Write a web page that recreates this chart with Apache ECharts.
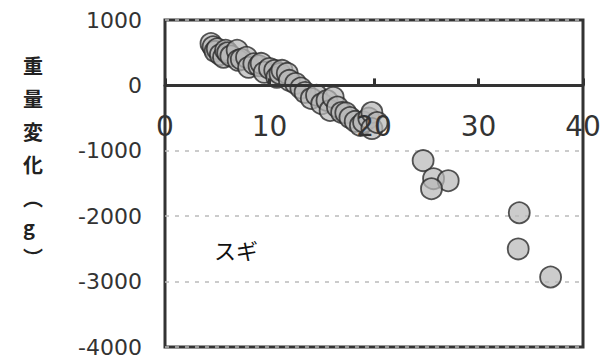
<!DOCTYPE html>
<html>
<head>
<meta charset="utf-8">
<script src="https://cdn.jsdelivr.net/npm/echarts@6/dist/echarts.min.js"></script>
<style>
  html, body { margin: 0; padding: 0; background: #fff; }
  #chart { width: 614px; height: 360px; }
</style>
</head>
<body>
<div id="chart"></div>
<script>
// 胸高直径 (cm) と 重量変化 (g) — スギ
const diameter = [
  4.4, 4.6, 4.8, 5.0, 5.3, 5.6, 5.8, 6.0, 6.3, 6.9,
  7.0, 7.3, 7.8, 8.0, 8.5, 9.0, 9.2, 9.5, 10.0, 10.5,
  10.7, 11.0, 11.2, 11.7, 11.9, 12.5, 13.0, 13.4, 14.0, 14.5,
  15.0, 15.5, 15.8, 16.1, 16.5, 16.9, 17.3, 17.7, 18.2, 18.7,
  19.0, 19.5, 19.8, 19.8, 20.3,
  24.7, 25.7, 27.1, 25.5, 33.9, 33.8, 36.9
];
const weightChange = [
  640, 590, 520, 560, 470, 430, 537, 500, 450, 537,
  383, 400, 430, 276, 330, 300, 337, 200, 260, 230,
  123, 180, 230, 184, 77, 30, -40, -107, -200, -150,
  -280, -230, -383, -184, -330, -414, -420, -491, -550, -613,
  -560, -500, -414, -660, -567,
  -1150, -1426, -1457, -1580, -1948, -2500, -2930
];
const xTicks = [0, 10, 20, 30, 40];
const yTicks = [-4000, -3000, -2000, -1000, 0, 1000];
const yTitle = ['重', '量', '変', '化', '︵', 'g', '︶'];
const speciesLabel = 'スギ';

const points = diameter.map((d, i) => [d, weightChange[i]]);

// plot box
const W = 614, H = 360;
const gridBox = { left: 165, right: 31, top: 20, bottom: 13 };
const plotH = H - gridBox.top - gridBox.bottom;
const yMin = yTicks[0], yMax = yTicks[yTicks.length - 1];
// the x axis sits on the y = 0 line, with its labels underneath
const xAxisOffset = -plotH * (yMax - 0) / (yMax - yMin);

const chart = echarts.init(document.getElementById('chart'), null, { renderer: 'svg' });

const titleTops = [55, 88, 121, 154, 187, 216, 247];
const titleGraphics = yTitle.map((ch, i) => ({
  type: 'text',
  left: 23,
  top: titleTops[i],
  style: {
    text: ch,
    font: 'bold 20px "Noto Sans CJK JP"',
    fill: '#222'
  }
}));

chart.setOption({
  animation: false,
  grid: Object.assign({
    show: true,
    borderColor: '#333',
    borderWidth: 3,
    backgroundColor: 'transparent'
  }, gridBox),
  xAxis: {
    type: 'value',
    position: 'top',
    offset: xAxisOffset,
    min: xTicks[0],
    max: xTicks[xTicks.length - 1],
    interval: 10,
    axisLine: { onZero: false, lineStyle: { color: '#333', width: 3 } },
    axisTick: { show: true, inside: false, length: 7, lineStyle: { color: '#333', width: 3 } },
    axisLabel: {
      inside: true,
      margin: 27,
      fontSize: 28,
      fontFamily: 'DejaVu Sans',
      color: '#333',
      showMinLabel: true,
      showMaxLabel: true
    },
    splitLine: { show: false },
    z: 3
  },
  yAxis: {
    type: 'value',
    min: yMin,
    max: yMax,
    interval: 1000,
    axisLine: { show: false },
    axisTick: { show: false },
    axisLabel: {
      margin: 23,
      fontSize: 22,
      fontFamily: 'DejaVu Sans',
      color: '#333',
      formatter: v => String(v)
    },
    splitLine: { show: true, lineStyle: { color: '#bbb', type: [4, 6], width: 1.5 } }
  },
  graphic: titleGraphics.concat([{
    type: 'text',
    left: 214,
    top: 238,
    style: {
      text: speciesLabel,
      font: '22px "Noto Sans CJK JP"',
      fill: '#111'
    }
  }]),
  series: [{
    type: 'scatter',
    data: points,
    symbol: 'circle',
    symbolSize: 21,
    itemStyle: {
      color: 'rgba(185,185,185,0.9)',
      borderColor: '#2a2a2a',
      borderWidth: 1.8
    },
    z: 2
  }]
});
</script>
</body>
</html>
